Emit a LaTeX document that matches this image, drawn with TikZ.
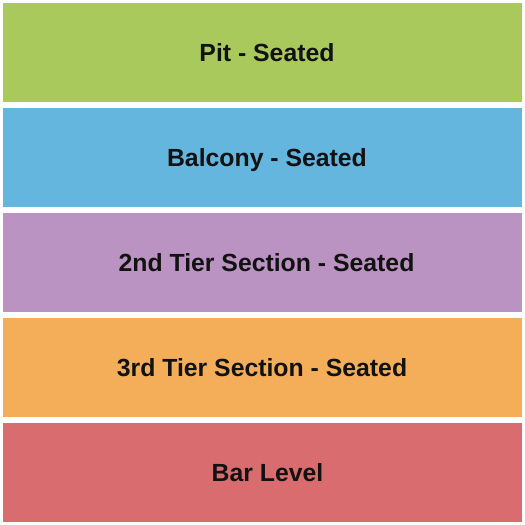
\documentclass[tikz,border=0pt]{standalone}
\usepackage{fontspec}
\setmainfont{Liberation Sans}

\definecolor{pitgreen}{RGB}{170,201,92}
\definecolor{balconyblue}{RGB}{100,182,222}
\definecolor{tierpurple}{RGB}{186,147,194}
\definecolor{tierorange}{RGB}{244,174,90}
\definecolor{barred}{RGB}{216,108,110}

\tikzset{every picture/.style={line width=0.75pt}}
\tikzset{seatlabel/.style={anchor=base,inner sep=0pt,text=black!93,font=\fontsize{24.8}{28}\selectfont\bfseries}}

\begin{document}
\begin{tikzpicture}[x=1pt,y=1pt,yscale=-1,xscale=1]
	%set diagram to 525 x 525
	\useasboundingbox (0,0) rectangle (525,525);

	%Shape: Rectangle [pit]
	\fill [pitgreen] (3,3) rectangle (522,102) ;
	%Shape: Rectangle [balcony]
	\fill [balconyblue] (3,108) rectangle (522,207) ;
	%Shape: Rectangle [2nd tier]
	\fill [tierpurple] (3,213) rectangle (522,312) ;
	%Shape: Rectangle [3rd tier]
	\fill [tierorange] (3,318) rectangle (522,417) ;
	%Shape: Rectangle [bar level]
	\fill [barred] (3,423) rectangle (522,522) ;

	% Text Node
	\node (pit) at (267,61.5) [seatlabel] {Pit - Seated};
	% Text Node
	\node (balcony) at (267,166.5) [seatlabel] {Balcony - Seated};
	% Text Node
	\node (tierTwo) at (266.5,271.5) [seatlabel] {2nd Tier Section - Seated};
	% Text Node
	\node (tierThree) at (262,376.5) [seatlabel] {3rd Tier Section - Seated};
	% Text Node
	\node (barLevel) at (267.5,481.5) [seatlabel] {Bar Level};
\end{tikzpicture}
\end{document}
